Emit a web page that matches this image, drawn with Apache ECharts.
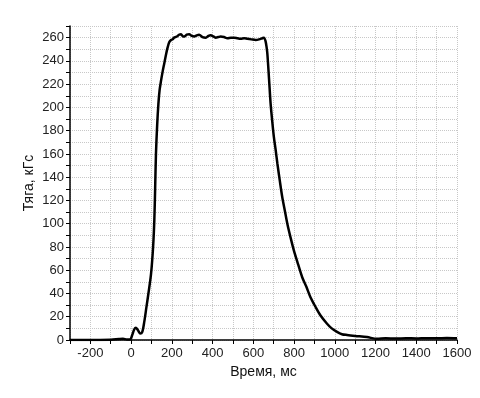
<!DOCTYPE html>
<html>
<head>
<meta charset="utf-8">
<script src="https://cdn.jsdelivr.net/npm/echarts@6/dist/echarts.min.js"></script>
<style>
  html, body { margin: 0; padding: 0; background: #fff; }
  #chart { width: 480px; height: 398px; }
</style>
</head>
<body>
<div id="chart"></div>
<script>
// time, ms
const timeMs = [
  -300, -200, -100, -60, -40, -20, -5, 5, 15, 24, 35, 45, 55, 65, 75, 85, 98,
  108, 114, 118, 122, 128, 134, 140, 147, 155, 163, 172, 180, 187, 196, 204,
  211, 225, 235, 245, 255, 261, 273, 285, 298, 310, 322, 334, 350, 367, 380,
  391, 404, 416, 428, 440, 456, 473, 490, 506, 522, 538, 555, 571, 590, 612,
  628, 644, 652, 660, 665, 669, 677, 685, 693, 701, 710, 718, 730, 742, 755,
  767, 783, 799, 820, 840, 860, 880, 905, 930, 962, 985, 1011, 1035, 1060,
  1100, 1158, 1207, 1250, 1300, 1350, 1400, 1450, 1500, 1550, 1600
];
// thrust, kgf
const thrust = [
  0, 0, 0.3, 0.8, 1, 0.5, 0.5, 4, 9, 10.5, 8, 5.5, 7, 16, 28, 40, 57,
  80, 103, 130, 160, 185, 203, 215, 223, 231, 238, 246, 252, 256, 258, 258.5,
  260, 261, 262.5, 263, 261, 261, 262.5, 263, 261.5, 261, 262, 262.5, 260.5, 260, 261.5,
  262, 261, 260, 260.5, 261, 260.5, 259.5, 260, 260, 259.5, 259, 259.5, 259, 258.5, 258,
  258.5, 259.5, 260, 257, 252, 246, 225, 203, 188, 174.5, 163, 152, 137, 123, 111,
  100, 88, 77, 65, 54, 46, 37, 28.6, 21, 14, 10, 7, 5, 4.3,
  3.5, 2.5, 1, 1.5, 1.2, 1.5, 1.3, 1.6, 1.4, 1.7, 1.5
];

const chart = echarts.init(document.getElementById("chart"));
const font = "Liberation Sans, Arial, sans-serif";
const gridLine = { show: true, lineStyle: { color: "#c8c8c8", type: "dotted", width: 1 } };

chart.setOption({
  animation: false,
  grid: { left: 70, right: 23, top: 26, bottom: 58 },
  xAxis: {
    type: "value",
    min: -300,
    max: 1600,
    interval: 100,
    name: "Время, мс",
    nameLocation: "middle",
    nameGap: 24,
    nameTextStyle: { fontFamily: font, fontSize: 14, color: "#111" },
    axisLine: { onZero: false, lineStyle: { color: "#000", width: 1.5 } },
    axisTick: { length: 4, lineStyle: { color: "#000" } },
    axisLabel: {
      fontFamily: font, fontSize: 13, color: "#222", margin: 7,
      formatter: (v) => (v % 200 === 0 ? String(v) : "")
    },
    splitLine: gridLine
  },
  yAxis: {
    type: "value",
    min: 0,
    max: 270,
    interval: 10,
    name: "Тяга, кГс",
    nameLocation: "middle",
    nameGap: 34,
    nameMoveOverlap: false,
    nameTextStyle: { fontFamily: font, fontSize: 14, color: "#111" },
    axisLine: { show: true, onZero: false, lineStyle: { color: "#000", width: 1.5 } },
    axisTick: { show: true, length: 4, lineStyle: { color: "#000" } },
    axisLabel: {
      fontFamily: font, fontSize: 13, color: "#222", margin: 6,
      formatter: (v) => (v % 20 === 0 ? String(v) : "")
    },
    splitLine: gridLine
  },
  series: [
    {
      type: "line",
      data: timeMs.map((t, i) => [t, thrust[i]]),
      smooth: 0.3,
      symbol: "none",
      lineStyle: { color: "#000", width: 2.5 }
    }
  ]
});
</script>
</body>
</html>
